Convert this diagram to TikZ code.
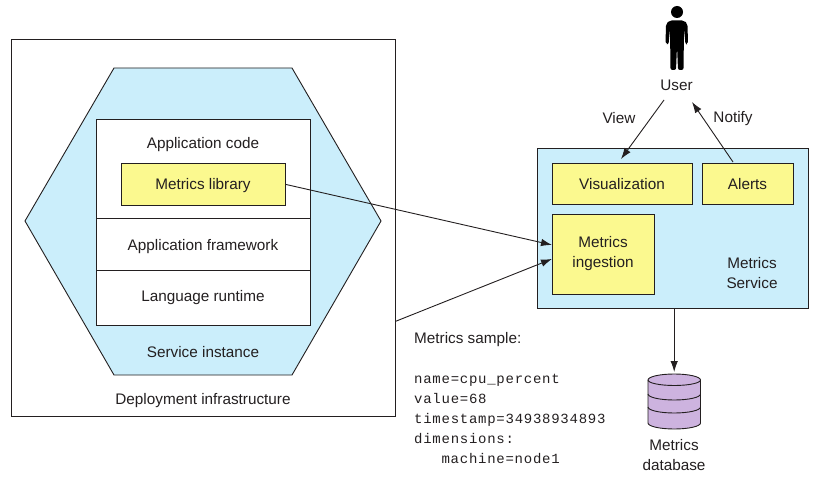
\documentclass[tikz,border=0pt]{standalone}
\usepackage{fontspec}
\setmainfont{Liberation Sans}
\setmonofont[LetterSpace=5.3]{Liberation Mono}
\usetikzlibrary{arrows.meta,calc}
\definecolor{hexblue}{HTML}{CBEEFB}
\definecolor{boxyellow}{HTML}{FBF98F}
\definecolor{dbpurple}{HTML}{CDB3DF}
\definecolor{ink}{HTML}{231F20}
\tikzset{
  lab/.style={font=\fontsize{15.3}{20}\selectfont,text=ink,inner sep=0pt,align=center},
  mono/.style={font=\ttfamily\fontsize{14}{20}\selectfont,text=ink,inner sep=0pt,align=left},
  box/.style={draw=ink,line width=0.9pt,inner sep=0pt,anchor=north west},
  arr/.style={draw=ink,line width=0.9pt,-{Latex[length=11pt,width=7.5pt]}},
  frame/.style={draw=ink,line width=0.9pt}
}
\begin{document}
\begin{tikzpicture}[x=1pt,y=-1pt]
\useasboundingbox (0,0) rectangle (818,478);
\node[box,fill=white,minimum width=384pt,minimum height=376pt] (infra) at (10.5,39.5) {};
\draw[frame,fill=hexblue] (114,68) -- (292,68) -- (381,221) -- (292,375) -- (114,375) -- (25,221) -- cycle;
\node[box,fill=white,minimum width=214pt,minimum height=206pt] (stack) at (96,119) {};
\draw[frame] (96,218) -- (310,218);
\draw[frame] (96,270) -- (310,270);
\node[lab] (appcode) at (203,145) {Application code};
\node[box,fill=boxyellow,minimum width=164pt,minimum height=42pt] (lib) at (121,163) {};
\node[lab] (libtext) at (203,186) {Metrics library};
\node[lab] (framework) at (203,247) {Application framework};
\node[lab] (runtime) at (203,298) {Language runtime};
\node[lab] (instance) at (203,352) {Service instance};
\node[lab] (deploy) at (203,401) {Deployment infrastructure};
\node[box,fill=hexblue,minimum width=271pt,minimum height=160pt] (service) at (537,148) {};
\node[box,fill=boxyellow,minimum width=140pt,minimum height=41pt] (vis) at (552,163) {};
\node[lab] (vistext) at (622,184) {Visualization};
\node[box,fill=boxyellow,minimum width=91pt,minimum height=41pt] (alerts) at (702,163) {};
\node[lab] (alertstext) at (747.5,184) {Alerts};
\node[box,fill=boxyellow,minimum width=102pt,minimum height=80pt] (ingest) at (552,214) {};
\node[lab] (ingesttext) at (603,253.5) {Metrics\\ingestion};
\node[lab] (servicetext) at (752,273.5) {Metrics\\Service};
% user figure
\fill[black] (677,12) circle (6);
\fill[black,rounded corners=2pt] (669.5,20.5) -- (684,20.5) -- (687.5,24) -- (688,44) -- (685.5,44.5) -- (684,29) -- (683.5,70) -- (678,70) -- (677,46) -- (676,70) -- (670.5,70) -- (670,29) -- (668.5,44.5) -- (665.5,44) -- (666,24) -- cycle;
\node[lab] (user) at (676.5,85.5) {User};
\node[lab] (view) at (619,118.5) {View};
\node[lab] (notify) at (733,118.5) {Notify};
\coordinate (viewstart) at (664,100);
\coordinate (viewend) at (621,159);
\coordinate (notifystart) at (733,162);
\coordinate (notifyend) at (692,102);
\draw[arr] (viewstart) -- (viewend);
\draw[arr] (notifystart) -- (notifyend);
\draw[arr] (lib.east) -- ($(ingest.west)+(0,-9.5)$);
\draw[arr] ($(infra.south east)+(0,-95)$) -- ($(ingest.west)+(0,4.5)$);
% database
\draw[frame,fill=dbpurple] (648,380) -- (648,423) arc[start angle=180,end angle=0,x radius=26.25,y radius=6] -- (700.5,380) arc[start angle=0,end angle=-180,x radius=26.25,y radius=6] -- cycle;
\draw[frame] (648,380) arc[start angle=180,end angle=0,x radius=26.25,y radius=5.5];
\draw[frame] (648,394) arc[start angle=180,end angle=0,x radius=26.25,y radius=6];
\draw[frame] (648,407) arc[start angle=180,end angle=0,x radius=26.25,y radius=6];
\coordinate (dbtop) at (674.2,372);
\draw[arr] (service.south -| dbtop) -- (dbtop);
\node[lab] (dbtext) at (674,455.5) {Metrics\\database};
\node[lab,anchor=west] (sample) at (414,339.5) {Metrics sample:};
\node[mono,anchor=north west] (code) at (414,374) {name=cpu\_percent\\value=68\\timestamp=34938934893\\dimensions:\\\hspace*{27.4pt}machine=node1};
\end{tikzpicture}
\end{document}
